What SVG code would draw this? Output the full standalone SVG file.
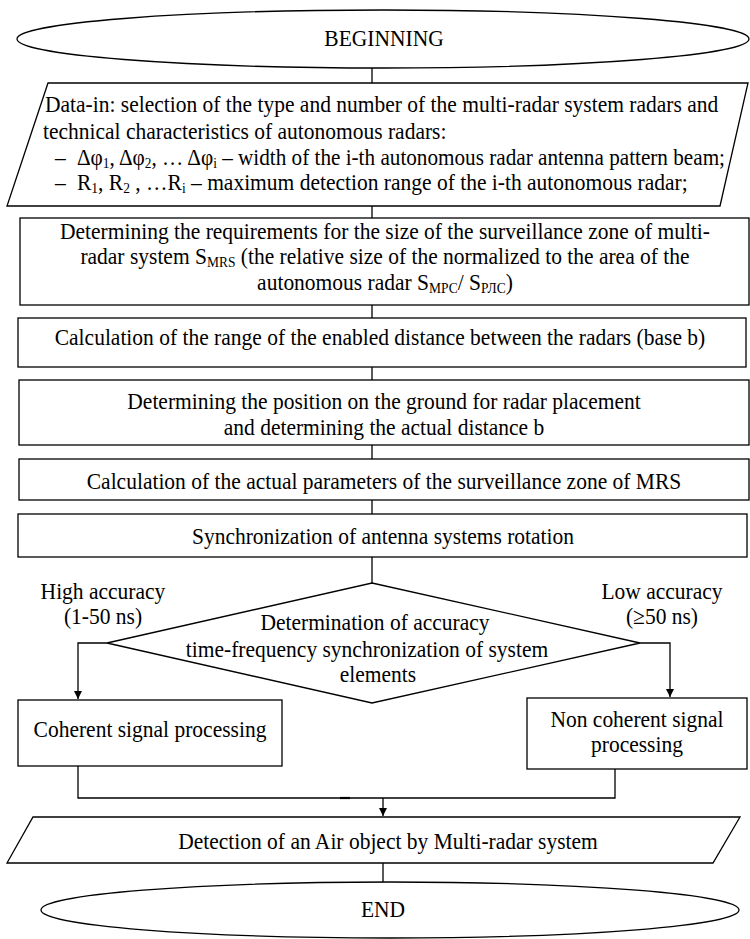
<svg xmlns="http://www.w3.org/2000/svg" width="750" height="939" viewBox="0 0 750 939">
<defs>
<style>
.s{fill:#fff;stroke:#000;stroke-width:1.3}
.c{fill:none;stroke:#000;stroke-width:1.3}
text{font-family:"Liberation Serif","Times New Roman",serif;font-size:21.5px;fill:#000}
.m{text-anchor:middle}
.sub{font-size:13.5px}
</style>
<marker id="ar" markerWidth="10" markerHeight="10" refX="8" refY="4" orient="auto" markerUnits="userSpaceOnUse">
<path d="M0,0 L8,4 L0,8 Z" fill="#000"/>
</marker>
</defs>
<rect width="750" height="939" fill="#fff"/>
<g id="connectors">
<line class="c" x1="372" y1="68" x2="372" y2="83"/>
<line class="c" x1="372" y1="206" x2="372" y2="218"/>
<line class="c" x1="372" y1="305" x2="372" y2="318"/>
<line class="c" x1="372" y1="367" x2="372" y2="380"/>
<line class="c" x1="372" y1="445" x2="372" y2="459"/>
<line class="c" x1="372" y1="500" x2="372" y2="514"/>
<line class="c" x1="372" y1="557" x2="372" y2="583"/>
<polyline class="c" points="107,643 78,643 78,699" marker-end="url(#ar)"/>
<polyline class="c" points="640,643 670,643 670,697" marker-end="url(#ar)"/>
<polyline class="c" points="78,766 78,798 615,798 615,769"/>
<line x1="340" y1="798" x2="350" y2="798" stroke="#000" stroke-width="2.2"/>
<line class="c" x1="383" y1="798" x2="383" y2="816" marker-end="url(#ar)"/>
<line class="c" x1="383" y1="863" x2="383" y2="882"/>
</g>
<g id="begin">
<ellipse class="s" cx="383" cy="39" rx="366" ry="29"/>
<text class="m" x="384" y="46" transform="matrix(1 0 0 1.1 0 -4.6)">BEGINNING</text>
</g>
<g id="datain">
<polygon class="s" points="48,83 748,83 720,206 7,206"/>
<text x="45" y="112" transform="matrix(1 0 0 1.1 0 -11.2)">Data-in: selection of the type and number of the multi-radar system radars and</text>
<text x="43" y="139" transform="matrix(1 0 0 1.1 0 -13.9)">technical characteristics of autonomous radars:</text>
<text x="55" y="165" transform="matrix(1 0 0 1.1 0 -16.5)">–</text>
<text x="77" y="165" transform="matrix(1 0 0 1.1 0 -16.5)" textLength="648" lengthAdjust="spacingAndGlyphs">Δφ<tspan class="sub" dy="2.5">1</tspan><tspan dy="-2.5">, Δφ</tspan><tspan class="sub" dy="2.5">2</tspan><tspan dy="-2.5">, … Δφ</tspan><tspan class="sub" dy="2.5">i</tspan><tspan dy="-2.5"> – width of the i-th autonomous radar antenna pattern beam;</tspan></text>
<text x="55" y="190" transform="matrix(1 0 0 1.1 0 -19)">–</text>
<text x="77" y="190" transform="matrix(1 0 0 1.1 0 -19)">R<tspan class="sub" dy="2.5">1</tspan><tspan dy="-2.5">, R</tspan><tspan class="sub" dy="2.5">2</tspan><tspan dy="-2.5"> , …R</tspan><tspan class="sub" dy="2.5">i</tspan><tspan dy="-2.5"> – maximum detection range of the i-th autonomous radar;</tspan></text>
</g>
<g id="requirements">
<rect class="s" x="20" y="218" width="729" height="87"/>
<text class="m" x="385" y="239" transform="matrix(1 0 0 1.1 0 -23.9)">Determining the requirements for the size of the surveillance zone of multi-</text>
<text class="m" x="385" y="264" transform="matrix(1 0 0 1.1 0 -26.4)">radar system S<tspan class="sub" dy="3">MRS</tspan><tspan dy="-3"> (the relative size of the normalized to the area of the</tspan></text>
<text class="m" x="385" y="290" transform="matrix(1 0 0 1.1 0 -29)">autonomous radar S<tspan class="sub" dy="3">МРС</tspan><tspan dy="-3">/ S</tspan><tspan class="sub" dy="3">РЛС</tspan><tspan dy="-3">)</tspan></text>
</g>
<g id="range">
<rect class="s" x="18" y="318" width="728" height="49"/>
<text class="m" x="380" y="345" transform="matrix(1 0 0 1.1 0 -34.5)">Calculation of the range of the enabled distance between the radars (base b)</text>
</g>
<g id="position">
<rect class="s" x="19" y="380" width="730" height="65"/>
<text class="m" x="384" y="409" transform="matrix(1 0 0 1.1 0 -40.9)">Determining the position on the ground for radar placement</text>
<text class="m" x="384" y="435" transform="matrix(1 0 0 1.1 0 -43.5)">and determining the actual distance b</text>
</g>
<g id="params">
<rect class="s" x="19" y="459" width="730" height="41"/>
<text class="m" x="384" y="489" transform="matrix(1 0 0 1.1 0 -48.9)">Calculation of the actual parameters of the surveillance zone of MRS</text>
</g>
<g id="sync">
<rect class="s" x="18" y="514" width="729" height="43"/>
<text class="m" x="383" y="544" transform="matrix(1 0 0 1.1 0 -54.4)">Synchronization of antenna systems rotation</text>
</g>
<g id="decision">
<polygon class="s" points="372,583 640,643 372,703 107,643"/>
<text class="m" x="375" y="630" transform="matrix(1 0 0 1.1 0 -63)">Determination of accuracy</text>
<text class="m" x="367" y="657" transform="matrix(1 0 0 1.1 0 -65.7)">time-frequency synchronization of system</text>
<text class="m" x="378" y="682" transform="matrix(1 0 0 1.1 0 -68.2)">elements</text>
</g>
<g id="label-high">
<text class="m" x="103" y="599" transform="matrix(1 0 0 1.1 0 -59.9)">High accuracy</text>
<text class="m" x="103" y="624" transform="matrix(1 0 0 1.1 0 -62.4)">(1-50 ns)</text>
</g>
<g id="label-low">
<text class="m" x="662" y="599" transform="matrix(1 0 0 1.1 0 -59.9)">Low accuracy</text>
<text class="m" x="662" y="624" transform="matrix(1 0 0 1.1 0 -62.4)">(≥50 ns)</text>
</g>
<g id="coherent">
<rect class="s" x="18" y="700" width="264" height="66"/>
<text class="m" x="150" y="737" transform="matrix(1 0 0 1.1 0 -73.7)">Coherent signal processing</text>
</g>
<g id="noncoherent">
<rect class="s" x="527" y="698" width="220" height="71"/>
<text class="m" x="637" y="727" transform="matrix(1 0 0 1.1 0 -72.7)">Non coherent signal</text>
<text class="m" x="637" y="752" transform="matrix(1 0 0 1.1 0 -75.2)">processing</text>
</g>
<g id="detection">
<polygon class="s" points="33,817 740,817 713,863 7,863"/>
<text class="m" x="388" y="849" transform="matrix(1 0 0 1.1 0 -84.9)">Detection of an Air object by Multi-radar system</text>
</g>
<g id="end">
<ellipse class="s" cx="390" cy="910" rx="349" ry="28"/>
<text class="m" x="383" y="917" transform="matrix(1 0 0 1.1 0 -91.7)">END</text>
</g>
</svg>
